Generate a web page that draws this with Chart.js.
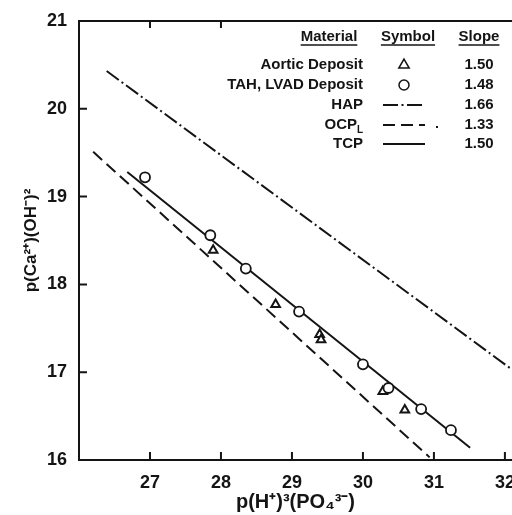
<!DOCTYPE html>
<html>
<head>
<meta charset="utf-8">
<script src="https://cdn.jsdelivr.net/npm/chart.js@4.4.1/dist/chart.umd.min.js"></script>
<style>
  html, body { margin: 0; padding: 0; background: #fff; }
  #wrap { width: 512px; height: 515px; }
</style>
</head>
<body>
<div id="wrap"><canvas id="chart" width="512" height="515"></canvas></div>
<script>
const tahX = [26.93, 27.85, 28.35, 29.10, 30.00, 30.36, 30.82, 31.24];
const tahY = [19.22, 18.56, 18.18, 17.69, 17.09, 16.82, 16.58, 16.34];
const aorticX = [27.89, 28.77, 29.39, 29.41, 30.28, 30.59];
const aorticY = [18.39, 17.77, 17.43, 17.37, 16.78, 16.57];

// reference solubility lines, end points [x, y]
const hapLine = [[26.39, 20.43], [32.10, 17.03]];
const ocpLine = [[26.20, 19.51], [30.94, 16.03]];
const tcpLine = [[26.68, 19.28], [31.51, 16.14]];

// legend table
const materials = ['Aortic Deposit', 'TAH, LVAD Deposit', 'HAP', 'OCP', 'TCP'];
const slopes = ['1.50', '1.48', '1.66', '1.33', '1.50'];

const xTicks = [27, 28, 29, 30, 31, 32];
const topTicks = [27, 28];
const yTicks = [17, 18, 19, 20];

const INK = '#141414';
const FONT = "'Liberation Sans', Arial, Helvetica, sans-serif";

const toPts = (xs, ys) => xs.map((x, i) => ({ x: x, y: ys[i] }));
const linePts = arr => arr.map(p => ({ x: p[0], y: p[1] }));

const HAP_DASH = [15, 3.5, 2, 3.5];
const OCP_DASH = [12, 6];

// frame: top border + inward tick marks
const framePlugin = {
  id: 'frame',
  afterDraw(chart) {
    const { ctx, chartArea: a, scales: { x, y } } = chart;
    ctx.save();
    ctx.strokeStyle = INK;
    ctx.lineWidth = 2;
    ctx.beginPath();
    ctx.moveTo(a.left, a.top);
    ctx.lineTo(a.right, a.top);
    xTicks.forEach(v => {
      const px = x.getPixelForValue(v);
      ctx.moveTo(px, a.bottom);
      ctx.lineTo(px, a.bottom - 8);
    });
    topTicks.forEach(v => {
      const px = x.getPixelForValue(v);
      ctx.moveTo(px, a.top);
      ctx.lineTo(px, a.top + 7);
    });
    yTicks.forEach(v => {
      const py = y.getPixelForValue(v);
      ctx.moveTo(a.left, py);
      ctx.lineTo(a.left + 8, py);
    });
    ctx.stroke();
    ctx.restore();
  }
};

// legend drawn as a small table in the upper right
const tablePlugin = {
  id: 'table',
  afterDraw(chart) {
    const ctx = chart.ctx;
    ctx.save();
    ctx.fillStyle = INK;
    ctx.strokeStyle = INK;
    ctx.textBaseline = 'middle';
    ctx.font = 'bold 15px ' + FONT;

    const headers = [['Material', 329], ['Symbol', 408], ['Slope', 479]];
    ctx.textAlign = 'center';
    headers.forEach(h => {
      ctx.fillText(h[0], h[1], 37);
      const w = ctx.measureText(h[0]).width;
      ctx.lineWidth = 1.5;
      ctx.beginPath();
      ctx.moveTo(h[1] - w / 2, 45);
      ctx.lineTo(h[1] + w / 2, 45);
      ctx.stroke();
    });

    const rowY = [65, 85, 105, 125, 144];
    materials.forEach((m, i) => {
      ctx.textAlign = 'right';
      if (m === 'OCP') {
        ctx.font = 'bold 10px ' + FONT;
        ctx.fillText('L', 363, rowY[i] + 5);
        ctx.font = 'bold 15px ' + FONT;
        ctx.fillText(m, 357, rowY[i]);
      } else {
        ctx.fillText(m, 363, rowY[i]);
      }
      ctx.textAlign = 'center';
      ctx.fillText(slopes[i], 479, rowY[i]);
    });

    ctx.fillStyle = '#fff';
    Chart.helpers.drawPoint(ctx, { pointStyle: 'triangle', radius: 6, borderWidth: 1.8 }, 404, rowY[0]);
    Chart.helpers.drawPoint(ctx, { pointStyle: 'circle', radius: 5, borderWidth: 1.8 }, 404, rowY[1]);

    ctx.lineWidth = 1.8;
    [[HAP_DASH, rowY[2]], [OCP_DASH, rowY[3]], [[], rowY[4]]].forEach(s => {
      ctx.setLineDash(s[0]);
      ctx.beginPath();
      ctx.moveTo(383, s[1]);
      ctx.lineTo(425, s[1]);
      ctx.stroke();
    });
    ctx.setLineDash([]);
    ctx.fillStyle = INK;
    ctx.fillRect(436, rowY[3] + 1, 2, 2);
    ctx.restore();
  }
};

new Chart(document.getElementById('chart'), {
  type: 'scatter',
  data: {
    datasets: [
      {
        label: 'TAH, LVAD Deposit',
        data: toPts(tahX, tahY),
        pointStyle: 'circle',
        pointRadius: 5,
        borderWidth: 1.8,
        borderColor: INK,
        backgroundColor: '#fff',
        order: 0
      },
      {
        label: 'Aortic Deposit',
        data: toPts(aorticX, aorticY),
        pointStyle: 'triangle',
        pointRadius: 5,
        borderWidth: 2,
        borderColor: INK,
        backgroundColor: '#fff',
        order: 0
      },
      {
        label: 'HAP',
        data: linePts(hapLine),
        showLine: true,
        pointRadius: 0,
        borderWidth: 2,
        borderColor: INK,
        borderDash: HAP_DASH,
        order: 1
      },
      {
        label: 'OCP',
        data: linePts(ocpLine),
        showLine: true,
        pointRadius: 0,
        borderWidth: 2,
        borderColor: INK,
        borderDash: OCP_DASH,
        order: 1
      },
      {
        label: 'TCP',
        data: linePts(tcpLine),
        showLine: true,
        pointRadius: 0,
        borderWidth: 2,
        borderColor: INK,
        order: 1
      }
    ]
  },
  options: {
    responsive: false,
    animation: false,
    layout: { autoPadding: false, padding: { top: 21, right: 0, left: 0, bottom: 0 } },
    plugins: {
      legend: { display: false },
      tooltip: { enabled: false }
    },
    scales: {
      x: {
        type: 'linear',
        min: 26,
        max: 32.1,
        border: { display: true, color: INK, width: 2 },
        grid: { display: false },
        ticks: {
          stepSize: 1,
          includeBounds: false,
          padding: 4,
          color: INK,
          font: { family: FONT, size: 18, weight: 'bold' },
          callback: v => (v >= 27 ? v : '')
        },
        title: {
          display: true,
          text: 'p(H⁺)³(PO₄³⁻)',
          color: INK,
          font: { family: FONT, size: 20, weight: 'bold' },
          padding: { top: 0, bottom: 1 }
        },
        afterFit(s) {
          s.height = 55;
          s.paddingLeft = 0;
          s.paddingRight = 0;
        }
      },
      y: {
        type: 'linear',
        min: 16,
        max: 21,
        border: { display: true, color: INK, width: 2 },
        grid: { display: false },
        ticks: {
          stepSize: 1,
          padding: 4,
          color: INK,
          font: { family: FONT, size: 18, weight: 'bold' }
        },
        title: {
          display: true,
          text: 'p(Ca²⁺)(OH⁻)²',
          color: INK,
          font: { family: FONT, size: 17, weight: 'bold' },
          padding: { top: 21, bottom: 0 }
        },
        afterFit(s) {
          s.width = 79;
          s.paddingTop = 0;
          s.paddingBottom = 0;
        }
      }
    }
  },
  plugins: [framePlugin, tablePlugin]
});
</script>
</body>
</html>
